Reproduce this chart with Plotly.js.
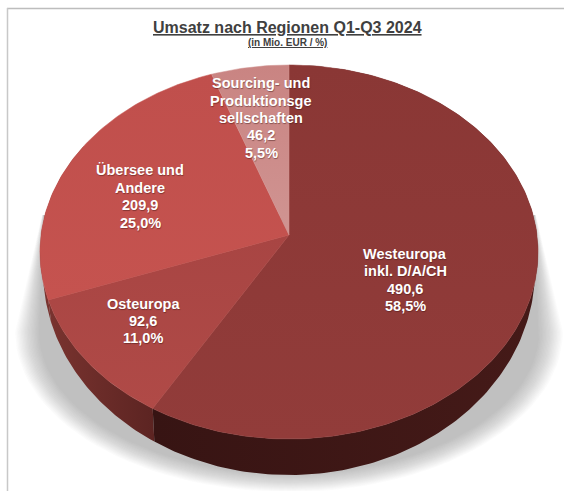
<!DOCTYPE html>
<html><head><meta charset="utf-8">
<script src="https://cdn.plot.ly/plotly-3.0.1.min.js"></script>
<style>html,body{margin:0;padding:0;background:#fff}</style></head>
<body><div id="chart" style="width:564px;height:491px"></div>
<script>
const regions = [["Westeuropa","inkl. D/A/CH"],["Osteuropa"],["Übersee und","Andere"],["Sourcing- und","Produktionsge","sellschaften"]];
const values = [490.6,92.6,209.9,46.2];
const valueLabels = ["490,6","92,6","209,9","46,2"];
const percentLabels = ["58,5%","11,0%","25,0%","5,5%"];
const faceColors = [["#8a3735","#923c3a"],["#a84543","#b04a47"],["#c04f4c","#c5534f"],["#c98482","#d09492"]];
const wallColors = [["#451a18","#371413"],["#5c2422","#79332f"],["#79332f","#79332f"],["#79332f","#79332f"]];
const labelX = [405,143,140,261];
const labelY = [280,321,196.5,118];

const cx=289, cy=235, k=0.0909;
const top_ = {R:248, S:185.5, cy:235};
const bot = {R:245, S:203.3, cy:251.4};
function pt(m,deg){const a=deg*Math.PI/180,u=Math.sin(a),v=-Math.cos(a),d=1-k*v;return [cx+m.R*u/d, m.cy+m.S*v/d];}
function arc(m,a0,a1){const n=Math.max(2,Math.ceil(Math.abs(a1-a0)));const o=[];for(let i=0;i<=n;i++)o.push(pt(m,a0+(a1-a0)*i/n));return o;}
const total=values.reduce((a,b)=>a+b,0);
let angs=[0];values.forEach(v=>angs.push(angs[angs.length-1]+v/total*360));

const traces=[];
// soft shadow
const N=18;
for(let i=0;i<N;i++){
  const g=(N-1-i)*1.4; // outer first
  const xs=[],ys=[];
  const rx=250+g, ry=142+g*0.75, yc=332, rt=245+g*0.08;
  xs.push(cx+rt); ys.push(215);
  for(let t=0;t<=180;t+=3){const a=t*Math.PI/180;xs.push(cx+rx*Math.cos(a));ys.push(yc+ry*Math.sin(a));}
  xs.push(cx-rt);ys.push(215);
  traces.push({x:xs,y:ys,mode:'lines',line:{width:0},fill:'toself',fillcolor:'rgba(120,120,120,0.029)',hoverinfo:'skip',showlegend:false});
}
// walls, back to front
[2,1,0].forEach(i=>{
  const t=arc(top_,angs[i],Math.min(angs[i+1],300)), b=arc(bot,angs[i],Math.min(angs[i+1],300)).reverse();
  const p=t.concat(b);
  const xs=p.map(q=>q[0]);
  traces.push({x:p.map(q=>q[0]),y:p.map(q=>q[1]),mode:'lines',line:{width:0},fill:'toself',
    fillgradient:{type:'horizontal',start:Math.min(...xs),stop:Math.max(...xs),colorscale:[[0,wallColors[i][1]],[1,wallColors[i][0]]]},
    hoverinfo:'skip',showlegend:false});
});
// top faces
values.forEach((v,i)=>{
  const p=[[cx,cy]].concat(arc(top_,angs[i],angs[i+1]));p.push([cx,cy]);
  const ys=p.map(q=>q[1]);
  traces.push({x:p.map(q=>q[0]),y:ys,mode:'lines',line:{width:0.5,color:faceColors[i][1]},fill:'toself',
    fillgradient:{type:'vertical',start:Math.min(...ys),stop:Math.max(...ys),colorscale:[[0,faceColors[i][0]],[1,faceColors[i][1]]]},
    name:regions[i].join(' '),hoverinfo:'name',showlegend:false});
});
const font={family:'"Liberation Sans",Arial,sans-serif',size:14.5,color:'#ffffff',weight:700,shadow:'0.5px 0.5px 0.8px rgba(60,20,20,0.45)'};
const lineStep=17.4;
const annotations=[];
regions.forEach((r,i)=>{
  const lines=r.concat([valueLabels[i],percentLabels[i]]);
  lines.forEach((t,j)=>annotations.push({x:labelX[i],y:labelY[i]+(j-(lines.length-1)/2)*lineStep,xref:'x',yref:'y',
    showarrow:false,align:'center',text:t,font}));
});
annotations.push({x:287,y:27,xref:'x',yref:'y',showarrow:false,text:'<u>Umsatz nach Regionen Q1-Q3 2024</u>',
  font:{family:'"Liberation Sans",Arial,sans-serif',size:16,color:'#404040',weight:700}});
annotations.push({x:287,y:42.5,xref:'x',yref:'y',showarrow:false,text:'<u>(in Mio. EUR / %)</u>',
  font:{family:'"Liberation Sans",Arial,sans-serif',size:10,color:'#404040',weight:700}});
const hidden={visible:false,fixedrange:true};
Plotly.newPlot('chart',traces,{
  width:564,height:491,margin:{l:0,r:0,t:0,b:0},paper_bgcolor:'#fff',plot_bgcolor:'#fff',showlegend:false,
  xaxis:{...hidden,range:[0,564]},yaxis:{...hidden,range:[491,0]},annotations,
  shapes:[
    {type:'line',xref:'x',yref:'y',x0:7,x1:564,y0:8.5,y1:8.5,line:{color:'#bdbdbd',width:1.5},layer:'below'},
    {type:'line',xref:'x',yref:'y',x0:7.5,x1:7.5,y0:8,y1:491,line:{color:'#c8c8c8',width:1.5},layer:'below'}
  ]
},{displayModeBar:false,staticPlot:true});
</script></body></html>
